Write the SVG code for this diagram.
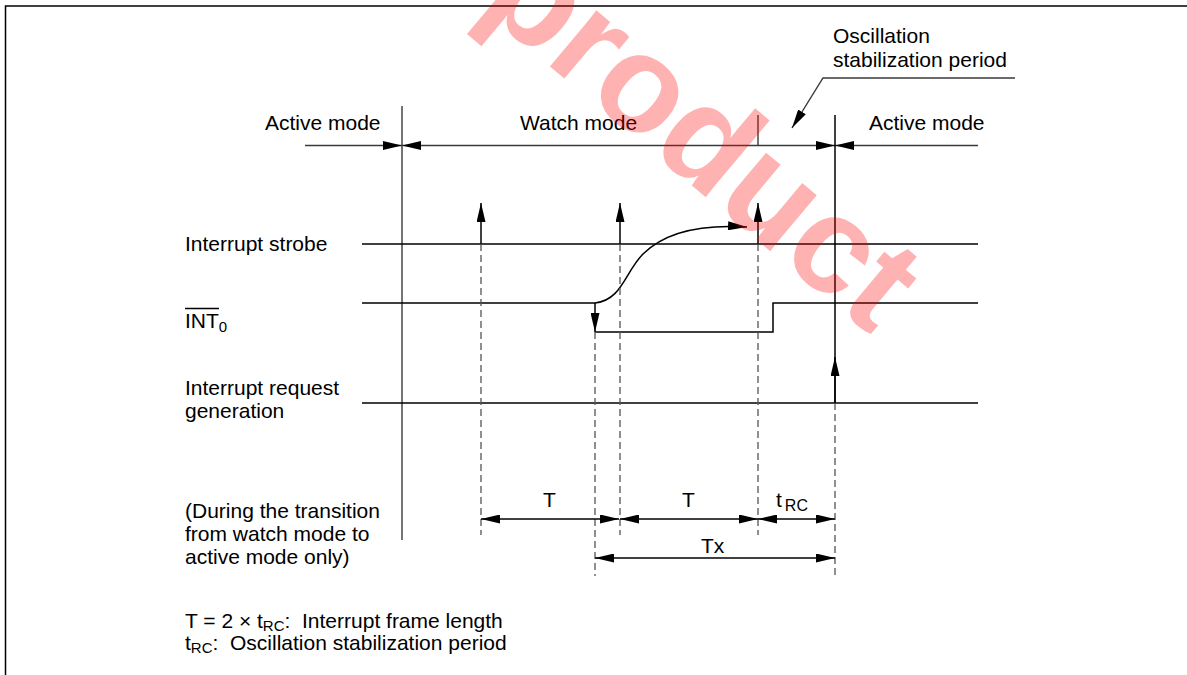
<svg xmlns="http://www.w3.org/2000/svg" width="1187" height="675" viewBox="0 0 1187 675">
<style>
text{font-family:"Liberation Sans",Arial,sans-serif;font-size:21px;fill:#000}
.sig{stroke:#000;stroke-width:1.5;fill:none}
.mode{stroke:#3a3a3a;stroke-width:1.4;fill:none}
.dash{stroke:#555;stroke-width:1.3;stroke-dasharray:7,4;fill:none}
.arr{marker-end:url(#ah)}
.arr2{marker-start:url(#ah);marker-end:url(#ah)}
.wm{font-family:"Liberation Sans",Arial,sans-serif;font-weight:bold;font-size:138px;fill:#ff0000;fill-opacity:0.3}
</style>
<defs>
<marker id="ah" markerUnits="userSpaceOnUse" markerWidth="19" markerHeight="9" viewBox="0 0 19 9" refX="19" refY="4.5" orient="auto-start-reverse">
<path d="M0,0 L19,4.5 L0,9 z" fill="#000"/>
</marker>
</defs>
<rect width="1187" height="675" fill="#fff"/>
<g id="frame" stroke="#000" stroke-width="1.5" fill="none">
<path d="M5.5,675 V6 H1187"/>
</g>
<g id="connectors">
<line class="mode arr" x1="305" y1="145.5" x2="402" y2="145.5"/>
<line class="mode arr2" x1="402" y1="145.5" x2="835" y2="145.5"/>
<line class="mode" x1="835" y1="145.5" x2="978" y2="145.5" marker-start="url(#ah)"/>
<line class="mode" x1="402" y1="106" x2="402" y2="540"/>
<line class="mode" x1="758" y1="115" x2="758" y2="145.5"/>
<line class="sig" x1="835" y1="115" x2="835" y2="403" stroke-width="1.3"/>
<path class="mode arr" d="M1015,78 H823 L792,128"/>
<line class="sig" x1="362" y1="244" x2="978" y2="244"/>
<path class="sig" d="M362,303 H595 M595,332 H773 V303 H978"/>
<line class="sig arr" x1="595" y1="303" x2="595" y2="332"/>
<line class="sig" x1="362" y1="403" x2="978" y2="403"/>
<line class="sig arr" x1="481" y1="244" x2="481" y2="203"/>
<line class="sig arr" x1="620" y1="244" x2="620" y2="203"/>
<line class="sig arr" x1="758" y1="244" x2="758" y2="203"/>
<line class="sig arr" x1="835" y1="403" x2="835" y2="357"/>
<path class="sig arr" stroke-width="1.3" d="M595,303 C622,300 625,272 643,254 C665,232 700,224 747,227"/>
<line class="dash" x1="481" y1="244" x2="481" y2="535"/>
<line class="dash" x1="620" y1="244" x2="620" y2="535"/>
<line class="dash" x1="758" y1="244" x2="758" y2="535"/>
<line class="dash" x1="595" y1="332" x2="595" y2="576"/>
<line class="dash" x1="835" y1="403" x2="835" y2="576"/>
<line class="sig arr2" stroke-width="1.3" x1="481" y1="519" x2="619" y2="519"/>
<line class="sig arr2" stroke-width="1.3" x1="620" y1="519" x2="758" y2="519"/>
<line class="sig arr2" stroke-width="1.3" x1="758" y1="519" x2="835" y2="519"/>
<line class="sig arr2" stroke-width="1.3" x1="595" y1="558" x2="835" y2="558"/>
</g>
<g id="mode-labels">
<text x="265" y="130">Active mode</text>
<text x="520" y="130">Watch mode</text>
<text x="869" y="130">Active mode</text>
<text x="833" y="43">Oscillation</text>
<text x="833" y="67">stabilization period</text>
</g>
<g id="signal-labels">
<text x="185" y="251">Interrupt strobe</text>
<text x="185" y="328">INT<tspan font-size="15" dy="4">0</tspan></text>
<line x1="185" y1="308.5" x2="219" y2="308.5" stroke="#000" stroke-width="1.3"/>
<text x="185" y="395">Interrupt request</text>
<text x="185" y="418">generation</text>
</g>
<g id="note">
<text x="185" y="518">(During the transition</text>
<text x="185" y="541">from watch mode to</text>
<text x="185" y="564">active mode only)</text>
</g>
<g id="dimension-labels">
<text x="543" y="507">T</text>
<text x="682" y="507">T</text>
<text x="776" y="507">t<tspan font-size="16" dx="3" dy="4">RC</tspan></text>
<text x="701" y="553">Tx</text>
</g>
<g id="legend">
<text x="185" y="628" font-size="20.5" xml:space="preserve">T = 2 × t<tspan font-size="15" dy="3">RC</tspan><tspan dy="-3">:  Interrupt frame length</tspan></text>
<text x="185" y="650" font-size="20.5" xml:space="preserve">t<tspan font-size="15" dy="3">RC</tspan><tspan dy="-3">:  Oscillation stabilization period</tspan></text>
</g>
<g id="watermark">
<text class="wm" transform="translate(478,6) rotate(40)">product</text>
</g>
</svg>
